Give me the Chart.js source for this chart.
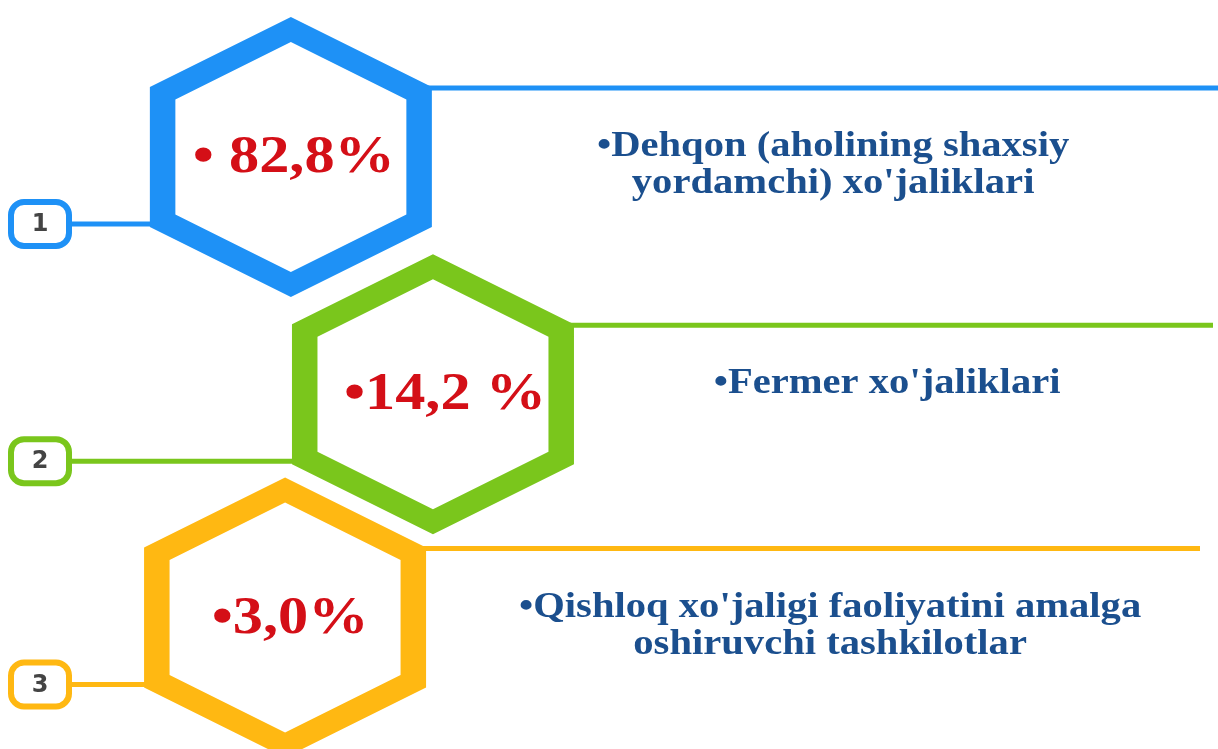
<!DOCTYPE html>
<html>
<head>
<meta charset="utf-8">
<title>Xo'jalik turlari</title>
<script src="https://cdn.jsdelivr.net/npm/chart.js@4.4.1/dist/chart.umd.min.js"></script>
<style>
  html, body { margin: 0; padding: 0; background: #ffffff; }
  canvas { display: block; }
</style>
</head>
<body>
<canvas id="hexChart" width="1218" height="749"></canvas>
<script>
// Data
const categories = [
  ["•Dehqon (aholining shaxsiy", "yordamchi) xo'jaliklari"],
  ["•Fermer xo'jaliklari"],
  ["•Qishloq xo'jaligi faoliyatini amalga", "oshiruvchi tashkilotlar"]
];
const shares = [82.8, 14.2, 3.0];
const shareLabels = ["• 82,8%", "•14,2 %", "•3,0%"];
const rankLabels = ["1", "2", "3"];

// Layout (row ~ rank, col = zig-zag column)
const hexRow = [1, 2.03, 3];
const hexCol = [0.02, 1, -0.02];
const valueShift = [3, 12, 5];
const textShift = [0, 54, -3];
const lineEndGap = [0, 5, 18];
const colors = ["#1E91F6", "#7AC61C", "#FFB812"];

const STRETCH = 1.16; // reference is a bit wider than tall

function hexPath(ctx, cx, cy, rx, ry) {
  ctx.moveTo(cx, cy - ry);
  ctx.lineTo(cx + rx, cy - ry / 2);
  ctx.lineTo(cx + rx, cy + ry / 2);
  ctx.lineTo(cx, cy + ry);
  ctx.lineTo(cx - rx, cy + ry / 2);
  ctx.lineTo(cx - rx, cy - ry / 2);
  ctx.closePath();
}

function roundRect(ctx, x, y, w, h, r) {
  ctx.beginPath();
  ctx.moveTo(x + r, y);
  ctx.arcTo(x + w, y, x + w, y + h, r);
  ctx.arcTo(x + w, y + h, x, y + h, r);
  ctx.arcTo(x, y + h, x, y, r);
  ctx.arcTo(x, y, x + w, y, r);
  ctx.closePath();
}

function stretchedText(ctx, text, x, y) {
  ctx.save();
  ctx.translate(x, y);
  ctx.scale(STRETCH, 1);
  ctx.fillText(text, 0, 0);
  ctx.restore();
}

// Draws hexagons, connector lines, rank boxes and texts at each point
const hexPlugin = {
  id: "hexInfographic",
  afterDatasetsDraw(chart) {
    const ctx = chart.ctx;
    const area = chart.chartArea;
    const points = chart.getDatasetMeta(0).data;
    const outerRx = 141, outerRy = 140;
    const innerRx = 115.5, innerRy = 115;
    const boxX = 40;

    ctx.save();
    // connector lines
    points.forEach((pt, i) => {
      ctx.strokeStyle = colors[i];
      ctx.lineWidth = 5;
      ctx.beginPath();
      ctx.moveTo(pt.x + outerRx - 4, pt.y - 69);
      ctx.lineTo(area.right - lineEndGap[i], pt.y - 69);
      ctx.stroke();
      ctx.beginPath();
      ctx.moveTo(boxX, pt.y + 67);
      ctx.lineTo(pt.x - outerRx + 6, pt.y + 67);
      ctx.stroke();
    });

    // hexagons
    points.forEach((pt, i) => {
      ctx.fillStyle = colors[i];
      ctx.beginPath();
      hexPath(ctx, pt.x, pt.y, outerRx, outerRy);
      hexPath(ctx, pt.x, pt.y, innerRx, innerRy);
      ctx.fill("evenodd");
    });

    // rank boxes
    points.forEach((pt, i) => {
      roundRect(ctx, boxX - 29, pt.y + 67 - 22, 58, 44, 13);
      ctx.fillStyle = "#ffffff";
      ctx.fill();
      ctx.lineWidth = 6;
      ctx.strokeStyle = colors[i];
      ctx.stroke();
      ctx.fillStyle = "#444444";
      ctx.font = "bold 24px 'DejaVu Sans'";
      ctx.textAlign = "center";
      ctx.textBaseline = "middle";
      ctx.fillText(rankLabels[i], boxX, pt.y + 68);
    });

    // share values
    ctx.textAlign = "center";
    ctx.textBaseline = "alphabetic";
    ctx.fillStyle = "#D40F17";
    ctx.font = "bold 52px 'Liberation Serif'";
    points.forEach((pt, i) => {
      stretchedText(ctx, shareLabels[i], pt.x + valueShift[i], pt.y + 15);
    });

    // category names
    ctx.fillStyle = "#1B4F8E";
    ctx.font = "bold 35px 'Liberation Serif'";
    const textX = area.left + area.width * 0.684;
    points.forEach((pt, i) => {
      categories[i].forEach((line, j) => {
        stretchedText(ctx, line, textX + textShift[i], pt.y - 1 + j * 37);
      });
    });
    ctx.restore();
  }
};

const ctx = document.getElementById("hexChart").getContext("2d");

new Chart(ctx, {
  type: "scatter",
  data: {
    datasets: [
      {
        label: "Ulush, %",
        data: shares.map((v, i) => ({ x: hexCol[i], y: hexRow[i], v: v })),
        pointRadius: 0,
        pointHoverRadius: 0,
      },
    ],
  },
  options: {
    responsive: false,
    animation: false,
    layout: { padding: 0 },
    plugins: {
      legend: { display: false },
      tooltip: { enabled: false },
    },
    scales: {
      // bounds picked so the rows/columns land where the reference has them
      x: { type: "linear", display: false, min: -1.986, max: 6.414 },
      y: { type: "linear", display: false, reverse: true, min: 0.318, max: 3.571 },
    },
  },
  plugins: [hexPlugin],
});
</script>
</body>
</html>
